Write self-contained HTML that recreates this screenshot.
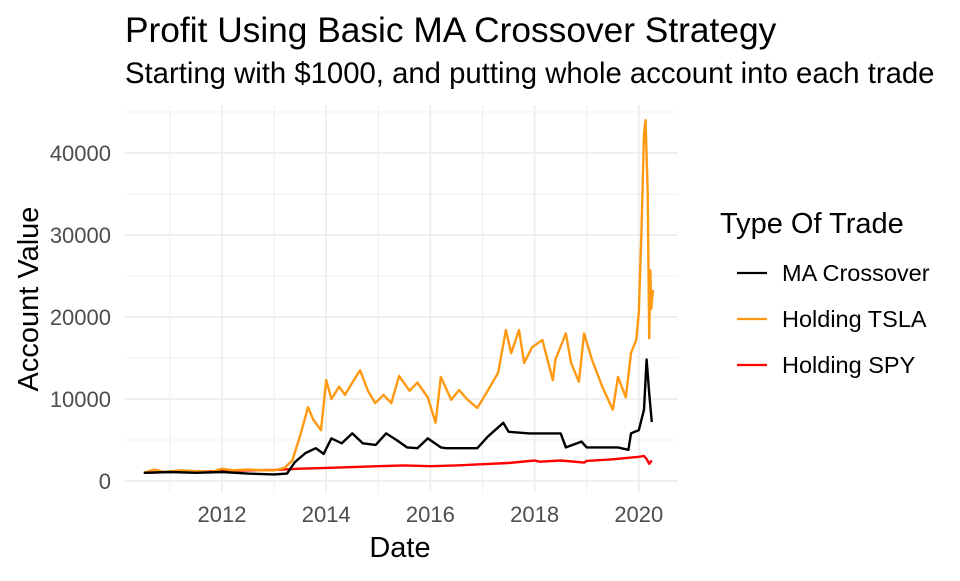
<!DOCTYPE html>
<html><head><meta charset="utf-8"><style>
body{margin:0;background:#fff;}
svg{font-family:"Liberation Sans",Arial,sans-serif;}
</style></head><body>
<svg id="chart" width="960" height="576">
<text x="125" y="42" font-size="35.3" fill="#000">Profit Using Basic MA Crossover Strategy</text>
<text x="125" y="83" font-size="29.3" fill="#000">Starting with $1000, and putting whole account into each trade</text>
<g id="grid"></g><g id="axes"></g><g id="series"></g>
<text x="400" y="557" font-size="29" text-anchor="middle">Date</text>
<text transform="translate(38,299) rotate(-90)" font-size="29" text-anchor="middle">Account Value</text>
<g>
<text x="720" y="233" font-size="29">Type Of Trade</text>
<g><line x1="737" x2="767" y1="273" y2="273" stroke="#000" stroke-width="2.2"/><text x="782" y="281" font-size="23.5">MA Crossover</text></g>
<g><line x1="737" x2="767" y1="319" y2="319" stroke="#ff9912" stroke-width="2.2"/><text x="782" y="327" font-size="23.5">Holding TSLA</text></g>
<g><line x1="737" x2="767" y1="365" y2="365" stroke="#ff0000" stroke-width="2.2"/><text x="782" y="373" font-size="23.5">Holding SPY</text></g>
</g>
</svg>
<script>
const xTicks=[2012,2014,2016,2018,2020];
const yTicks=[0,10000,20000,30000,40000];
const tslaDates=[2010.5,2010.7,2010.9,2011.2,2011.5,2011.8,2012.0,2012.2,2012.5,2012.8,2013.0,2013.2,2013.35,2013.5,2013.65,2013.75,2013.9,2014.0,2014.1,2014.25,2014.36,2014.5,2014.65,2014.8,2014.94,2015.1,2015.25,2015.4,2015.6,2015.75,2015.95,2016.1,2016.2,2016.4,2016.55,2016.7,2016.9,2017.1,2017.3,2017.45,2017.55,2017.7,2017.8,2017.95,2018.15,2018.35,2018.4,2018.6,2018.7,2018.85,2018.95,2019.1,2019.3,2019.5,2019.6,2019.75,2019.85,2019.95,2020.0,2020.05,2020.1,2020.13,2020.17,2020.2,2020.22,2020.24,2020.27];
const tslaValues=[1000,1400,1100,1300,1200,1100,1500,1300,1400,1300,1300,1600,2500,5500,9000,7500,6200,12300,10000,11500,10500,12000,13500,11000,9500,10500,9500,12800,11000,12000,10200,7100,12700,9900,11100,10000,8900,11000,13200,18400,15600,18400,14400,16300,17200,12300,14800,18000,14400,12100,18000,14800,11500,8700,12700,10200,15600,17200,20500,30200,42400,44000,35100,17400,25700,21000,23300];
const maDates=[2010.5,2011.0,2011.5,2012.0,2012.5,2013.0,2013.25,2013.4,2013.6,2013.8,2013.95,2014.1,2014.3,2014.5,2014.7,2014.95,2015.15,2015.35,2015.55,2015.75,2015.95,2016.2,2016.3,2016.9,2017.1,2017.4,2017.5,2017.9,2018.5,2018.6,2018.9,2019.0,2019.6,2019.8,2019.85,2020.0,2020.1,2020.15,2020.2,2020.25];
const maValues=[1000,1100,1000,1100,900,800,900,2300,3400,4000,3300,5200,4600,5800,4600,4400,5800,5000,4100,4000,5200,4100,4000,4000,5400,7100,6000,5800,5800,4100,4800,4100,4100,3800,5800,6200,8700,14800,10700,7200];
const spyDates=[2010.5,2011.0,2011.5,2012.0,2012.5,2013.0,2013.5,2014.0,2014.5,2015.0,2015.5,2016.0,2016.5,2017.0,2017.5,2018.0,2018.1,2018.5,2018.95,2019.0,2019.5,2020.0,2020.1,2020.15,2020.2,2020.25];
const spyValues=[1000,1100,1150,1200,1300,1350,1500,1600,1700,1800,1900,1800,1900,2050,2200,2500,2350,2500,2250,2450,2650,2950,3050,2700,2100,2500];
const NS="http://www.w3.org/2000/svg";
const L=125,R=678,T=105,B=492;
function xs(y){return 222+(y-2012)*52.1;}
function ys(v){return 481-v*0.0082;}
const grid=document.getElementById('grid'),axes=document.getElementById('axes'),ser=document.getElementById('series');
function ln(p,x1,y1,x2,y2,w,c){const e=document.createElementNS(NS,'line');e.setAttribute('x1',x1);e.setAttribute('y1',y1);e.setAttribute('x2',x2);e.setAttribute('y2',y2);e.setAttribute('stroke',c);e.setAttribute('stroke-width',w);p.appendChild(e);return e;}
for(let v=5000;v<=45000;v+=10000){const e=ln(grid,L,ys(v),R,ys(v),0.8,'#ebebeb');

}
for(let y=2011;y<=2021;y+=2){if(xs(y)<R){const e=ln(grid,xs(y),T,xs(y),B,0.8,'#ebebeb');

}}
yTicks.forEach(v=>{const e=ln(grid,L,ys(v),R,ys(v),1.6,'#ebebeb');


const t=document.createElementNS(NS,'text');t.setAttribute('x',111);t.setAttribute('y',ys(v)+8);t.setAttribute('text-anchor','end');t.setAttribute('font-size','22');t.setAttribute('fill','#4d4d4d');t.textContent=v;


axes.appendChild(t);});
xTicks.forEach(y=>{const e=ln(grid,xs(y),T,xs(y),B,1.6,'#ebebeb');


const t=document.createElementNS(NS,'text');t.setAttribute('x',xs(y));t.setAttribute('y',522);t.setAttribute('text-anchor','middle');t.setAttribute('font-size','22');t.setAttribute('fill','#4d4d4d');t.textContent=y;


axes.appendChild(t);});
function path(d,v,c,name){const p=document.createElementNS(NS,'path');p.setAttribute('d',d.map((x,i)=>(i?'L':'M')+xs(x).toFixed(1)+','+ys(v[i]).toFixed(1)).join(''));p.setAttribute('fill','none');p.setAttribute('stroke',c);p.setAttribute('stroke-width','2.4');p.setAttribute('stroke-linejoin','round');


ser.appendChild(p);}
path(spyDates,spyValues,'#ff0000','line-holding-spy');
path(tslaDates,tslaValues,'#ff9912','line-holding-tsla');
path(maDates,maValues,'#000000','line-ma-crossover');
</script>
</body></html>
